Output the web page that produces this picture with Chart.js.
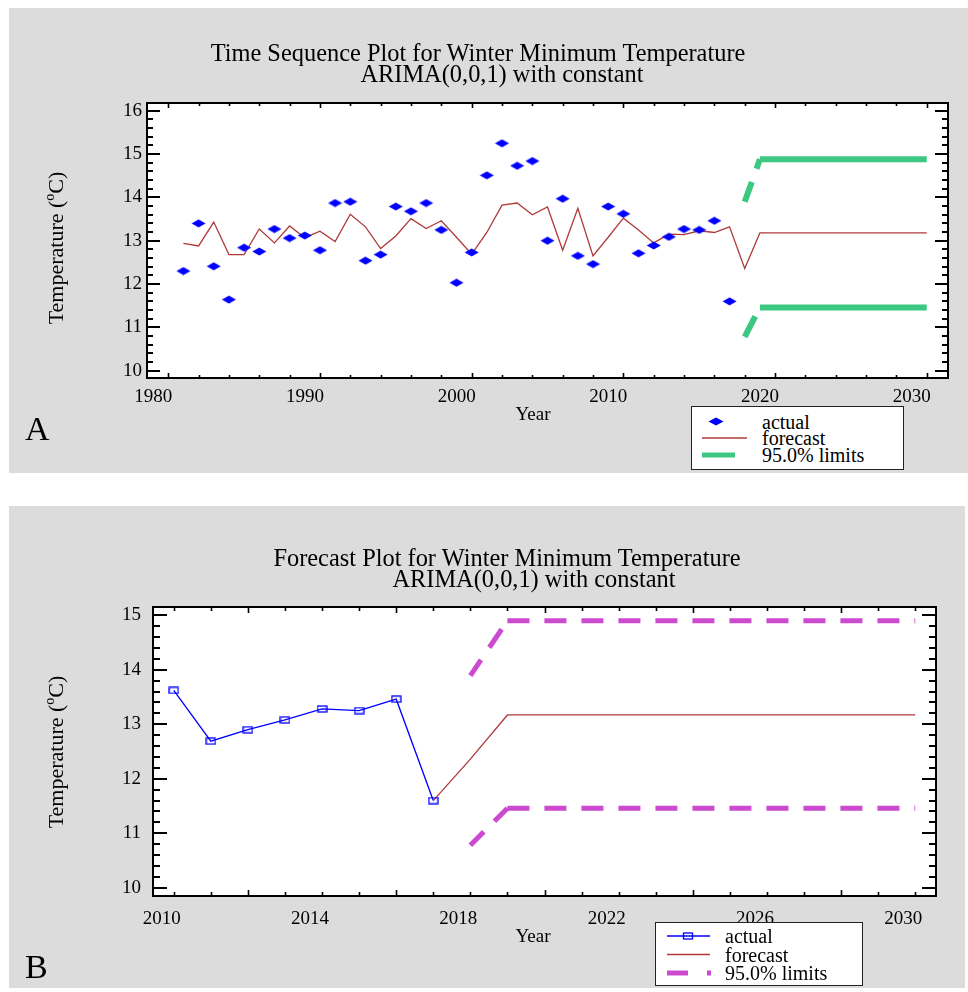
<!DOCTYPE html>
<html>
<head>
<meta charset="utf-8">
<script src="https://cdn.jsdelivr.net/npm/chart.js@4.4.1/dist/chart.umd.min.js"></script>
<style>
  body { margin: 0; background: #fff; width: 968px; height: 992px; position: relative; overflow: hidden; }
  .panel { position: absolute; background: #dcdcdc; }
  .panel canvas { position: absolute; left: 0; top: 0; }
  .txt { position: absolute; font-family: 'Liberation Serif', 'Times New Roman', serif; color: #000; white-space: nowrap; line-height: 1; }
  .title { font-size: 24.4px; transform: translateX(-50%); }
  .ytitle { font-size: 22px; transform: translate(-50%, -50%) rotate(-90deg); }
  .ytitle sup { font-size: 14px; vertical-align: 9px; }
  .xtitle { font-size: 19px; transform: translate(-50%, -50%); }
  .letter { font-size: 34px; }
  .legend { position: absolute; background: #fff; border: 1.5px solid #222; box-sizing: border-box; }
  .legend svg { position: absolute; left: 0; top: 0; }
  .legend .row { position: absolute; font-family: 'Liberation Serif', 'Times New Roman', serif; font-size: 20px; line-height: 1; transform: translateY(-50%); white-space: nowrap; }
</style>
</head>
<body>

<div class="panel" id="panelA" style="left:9px; top:8px; width:959px; height:465px;">
  <canvas id="chartA" width="959" height="465"></canvas>
</div>
<div class="panel" id="panelB" style="left:9px; top:506px; width:956px; height:482px;">
  <canvas id="chartB" width="956" height="482"></canvas>
</div>

<!-- panel A text -->
<div class="txt title" style="left:478px; top:41px;">Time Sequence Plot for Winter Minimum Temperature</div>
<div class="txt title" style="left:502px; top:62px;">ARIMA(0,0,1) with constant</div>
<div class="txt ytitle" style="left:55px; top:248px;">Temperature (<sup>o</sup>C)</div>
<div class="txt xtitle" style="left:533px; top:413px;">Year</div>
<div class="txt letter" style="left:25px; top:412px;">A</div>
<div class="legend" style="left:691px; top:406px; width:213px; height:64px;">
  <svg width="213" height="64">
    <polygon points="24,10.5 31.5,14.5 24,18.5 16.5,14.5" fill="#0000ff"/>
    <line x1="10" y1="31" x2="55" y2="31" stroke="#b03a3a" stroke-width="1.4"/>
    <line x1="10" y1="48" x2="43" y2="48" stroke="#3cc881" stroke-width="5"/>
  </svg>
  <div class="row" style="left:70px; top:14.5px;">actual</div>
  <div class="row" style="left:70px; top:31px;">forecast</div>
  <div class="row" style="left:70px; top:48px;">95.0% limits</div>
</div>

<!-- panel B text -->
<div class="txt title" style="left:507px; top:546px;">Forecast Plot for Winter Minimum Temperature</div>
<div class="txt title" style="left:534px; top:567px;">ARIMA(0,0,1) with constant</div>
<div class="txt ytitle" style="left:55px; top:752px;">Temperature (<sup>o</sup>C)</div>
<div class="txt xtitle" style="left:533px; top:935px;">Year</div>
<div class="txt letter" style="left:25px; top:950px;">B</div>
<div class="legend" style="left:655px; top:922px; width:208px; height:64px;">
  <svg width="208" height="64">
    <line x1="11" y1="13" x2="54" y2="13" stroke="#0000ff" stroke-width="1.3"/>
    <rect x="27.5" y="10" width="9" height="6" fill="none" stroke="#0000ff" stroke-width="1.3"/>
    <line x1="11" y1="31.5" x2="54" y2="31.5" stroke="#b03a3a" stroke-width="1.4"/>
    <line x1="11" y1="50" x2="32" y2="50" stroke="#cc4ad0" stroke-width="5"/>
    <line x1="51" y1="50" x2="55" y2="50" stroke="#cc4ad0" stroke-width="5"/>
  </svg>
  <div class="row" style="left:69px; top:13px;">actual</div>
  <div class="row" style="left:69px; top:31.5px;">forecast</div>
  <div class="row" style="left:69px; top:50px;">95.0% limits</div>
</div>

<script>
// ---- data: panel A (time sequence plot) ----
const actualYearsA = [1981, 1982, 1983, 1984, 1985, 1986, 1987, 1988, 1989, 1990,
  1991, 1992, 1993, 1994, 1995, 1996, 1997, 1998, 1999, 2000,
  2001, 2002, 2003, 2004, 2005, 2006, 2007, 2008, 2009, 2010,
  2011, 2012, 2013, 2014, 2015, 2016, 2017];
const actualA = [12.30, 13.40, 12.41, 11.64, 12.84, 12.75, 13.27, 13.06, 13.12, 12.78,
  13.87, 13.90, 12.54, 12.68, 13.79, 13.68, 13.87, 13.25, 12.03, 12.73,
  14.51, 15.25, 14.73, 14.84, 13.00, 13.97, 12.65, 12.46, 13.79, 13.62,
  12.71, 12.89, 13.09, 13.27, 13.25, 13.46, 11.60];
const forecastYearsA = [1981, 1982, 1983, 1984, 1985, 1986, 1987, 1988, 1989, 1990,
  1991, 1992, 1993, 1994, 1995, 1996, 1997, 1998, 1999, 2000,
  2001, 2002, 2003, 2004, 2005, 2006, 2007, 2008, 2009, 2010,
  2011, 2012, 2013, 2014, 2015, 2016, 2017, 2018, 2019, 2020,
  2021, 2022, 2023, 2024, 2025, 2026, 2027, 2028, 2029, 2030];
const forecastA = [12.94, 12.88, 13.43, 12.68, 12.68, 13.27, 12.95, 13.34, 13.07, 13.22,
  12.98, 13.61, 13.32, 12.82, 13.11, 13.51, 13.28, 13.46, 13.08, 12.69,
  13.19, 13.82, 13.87, 13.60, 13.78, 12.78, 13.75, 12.65, 13.08, 13.52,
  13.25, 12.95, 13.15, 13.14, 13.23, 13.19, 13.32, 12.36, 13.18, 13.18,
  13.18, 13.18, 13.18, 13.18, 13.18, 13.18, 13.18, 13.18, 13.18, 13.18];
const limitYearsA = [2018, 2019, 2030];
const upperA = [13.90, 14.88, 14.88];
const lowerA = [10.78, 11.46, 11.46];
const xTicksA = [1980, 1990, 2000, 2010, 2020, 2030];
const yTicksA = [10, 11, 12, 13, 14, 15, 16];

// ---- data: panel B (forecast plot) ----
const actualYearsB = [2010, 2011, 2012, 2013, 2014, 2015, 2016, 2017];
const actualB = [13.62, 12.69, 12.90, 13.08, 13.28, 13.25, 13.46, 11.60];
const forecastYearsB = [2017, 2018, 2019, 2020, 2021, 2022, 2023, 2024, 2025, 2026, 2027, 2028, 2029, 2030];
const forecastB = [11.60, 12.36, 13.17, 13.17, 13.17, 13.17, 13.17, 13.17, 13.17, 13.17, 13.17, 13.17, 13.17, 13.17];
const limitYearsB = [2018, 2019, 2030];
const upperB = [13.89, 14.90, 14.90];
const lowerB = [10.78, 11.46, 11.46];
const xTicksB = [2010, 2014, 2018, 2022, 2026, 2030];
const yTicksB = [10, 11, 12, 13, 14, 15];

const FONT = "'Liberation Serif', 'Times New Roman', serif";
const BLUE = '#0000ff';
const RED = '#b03a3a';
const GREEN = '#3cc881';
const MAGENTA = '#cc4ad0';

const pts = (xs, ys) => xs.map((x, i) => ({x: x, y: ys[i]}));

// wide diamond marker
const diamond = document.createElement('canvas');
diamond.width = 15; diamond.height = 9;
(function () {
  const c = diamond.getContext('2d');
  c.fillStyle = BLUE;
  c.beginPath();
  c.moveTo(0.5, 4.5); c.lineTo(7.5, 0.5); c.lineTo(14.5, 4.5); c.lineTo(7.5, 8.5);
  c.closePath(); c.fill();
})();

// hollow flat square marker
const square = document.createElement('canvas');
square.width = 11; square.height = 8;
(function () {
  const c = square.getContext('2d');
  c.strokeStyle = BLUE; c.lineWidth = 1.3;
  c.strokeRect(1, 1, 9, 6);
})();

// white plot area, then box frame + inward ticks on all four sides
const frameTicks = {
  id: 'frameTicks',
  beforeDatasetsDraw(chart) {
    const {ctx, chartArea: a} = chart;
    ctx.save();
    ctx.fillStyle = '#fff';
    ctx.fillRect(a.left, a.top, a.right - a.left, a.bottom - a.top);
    ctx.restore();
  },
  afterDraw(chart, args, o) {
    const {ctx, chartArea: a, scales: {x, y}} = chart;
    ctx.save();
    ctx.strokeStyle = '#000';
    const eachTick = (min, max, step, major, fn) => {
      for (let k = Math.ceil(min / step - 1e-9); k * step <= max + 1e-9; k++) {
        const v = k * step;
        const isMajor = Math.abs(v / major - Math.round(v / major)) < 1e-6;
        fn(v, isMajor);
      }
    };
    ctx.lineWidth = 2;
    eachTick(y.min, y.max, o.yMinor, o.yMajor, (v, m) => {
      const p = Math.round(y.getPixelForValue(v));
      const len = m ? o.yLen[0] : o.yLen[1];
      ctx.beginPath();
      ctx.moveTo(a.left, p); ctx.lineTo(a.left + len, p);
      ctx.moveTo(a.right, p); ctx.lineTo(a.right - len, p);
      ctx.stroke();
    });
    ctx.lineWidth = 1.6;
    eachTick(x.min, x.max, o.xMinor, o.xMajor, (v, m) => {
      const p = Math.round(x.getPixelForValue(v)) + 0.5;
      const len = m ? o.xLen[0] : o.xLen[1];
      ctx.beginPath();
      ctx.moveTo(p, a.bottom); ctx.lineTo(p, a.bottom - len);
      ctx.moveTo(p, a.top); ctx.lineTo(p, a.top + len);
      ctx.stroke();
    });
    ctx.lineWidth = 2;
    ctx.strokeRect(a.left, a.top, a.right - a.left, a.bottom - a.top);
    ctx.restore();
  }
};

function axes(cfg) {
  return {
    x: {
      type: 'linear', min: cfg.xMin, max: cfg.xMax,
      grid: {display: false, drawTicks: false},
      border: {display: false},
      afterBuildTicks: s => { s.ticks = cfg.xTicks.map(v => ({value: v})); },
      afterFit: s => { s.height = 30; },
      ticks: {color: '#000', font: {family: FONT, size: 19}, padding: cfg.xPad,
        labelOffset: cfg.xLabelOffset, maxRotation: 0, autoSkip: false, callback: v => String(v)}
    },
    y: {
      type: 'linear', min: cfg.yMin, max: cfg.yMax,
      grid: {display: false, drawTicks: false},
      border: {display: false},
      afterBuildTicks: s => { s.ticks = cfg.yTicks.map(v => ({value: v})); },
      afterFit: s => { s.width = 40; },
      ticks: {color: '#000', font: {family: FONT, size: 19}, padding: cfg.yPad,
        autoSkip: false, callback: v => String(v)}
    }
  };
}

new Chart(document.getElementById('chartA'), {
  type: 'line',
  data: {
    datasets: [
      {label: 'actual', data: pts(actualYearsA, actualA), showLine: false,
        pointStyle: diamond, pointRadius: 6},
      {label: 'forecast', data: pts(forecastYearsA, forecastA), borderColor: RED,
        borderWidth: 1.3, pointRadius: 0, tension: 0},
      {label: '95.0% limits', data: pts(limitYearsA, upperA), borderColor: GREEN,
        borderWidth: 6, pointRadius: 0, borderCapStyle: 'butt',
        segment: {borderDash: c => c.p0DataIndex === 0 ? [21, 14] : []}},
      {label: '95.0% limits lower', data: pts(limitYearsA, lowerA), borderColor: GREEN,
        borderWidth: 6, pointRadius: 0, borderCapStyle: 'butt',
        segment: {borderDash: c => c.p0DataIndex === 0 ? [23, 14] : []}}
    ]
  },
  options: {
    responsive: false, animation: false, devicePixelRatio: 1,
    layout: {padding: {left: 98, right: 20, top: 95, bottom: 65}},
    plugins: {
      legend: {display: false}, tooltip: {enabled: false},
      frameTicks: {yMinor: 0.2, yMajor: 1, yLen: [13, 6], xMinor: 2, xMajor: 10, xLen: [5, 3]}
    },
    scales: axes({xMin: 1978.6, xMax: 2031.4, yMin: 9.83, yMax: 16.18,
      xTicks: xTicksA, yTicks: yTicksA, xPad: 8, yPad: 5, xLabelOffset: -15})
  },
  plugins: [frameTicks]
});

new Chart(document.getElementById('chartB'), {
  type: 'line',
  data: {
    datasets: [
      {label: 'actual', data: pts(actualYearsB, actualB), borderColor: BLUE,
        borderWidth: 1.3, pointStyle: square, pointRadius: 5, tension: 0},
      {label: 'forecast', data: pts(forecastYearsB, forecastB), borderColor: RED,
        borderWidth: 1.3, pointRadius: 0, tension: 0},
      {label: '95.0% limits', data: pts(limitYearsB, upperB), borderColor: MAGENTA,
        borderWidth: 5, pointRadius: 0, borderCapStyle: 'butt', borderDash: [22, 15],
        segment: {borderDashOffset: c => c.p0DataIndex === 0 ? 3 : 0}},
      {label: '95.0% limits lower', data: pts(limitYearsB, lowerB), borderColor: MAGENTA,
        borderWidth: 5, pointRadius: 0, borderCapStyle: 'butt', borderDash: [22, 15],
        segment: {borderDashOffset: c => c.p0DataIndex === 0 ? 3 : 0}}
    ]
  },
  options: {
    responsive: false, animation: false, devicePixelRatio: 1,
    layout: {padding: {left: 104, right: 29, top: 101, bottom: 62}},
    plugins: {
      legend: {display: false}, tooltip: {enabled: false},
      frameTicks: {yMinor: 0.2, yMajor: 1, yLen: [14, 7], xMinor: 1, xMajor: 4, xLen: [6, 4]}
    },
    scales: axes({xMin: 2009.44, xMax: 2030.56, yMin: 9.85, yMax: 15.15,
      xTicks: xTicksB, yTicks: yTicksB, xPad: 12, yPad: 12, xLabelOffset: -12})
  },
  plugins: [frameTicks]
});
</script>
</body>
</html>
